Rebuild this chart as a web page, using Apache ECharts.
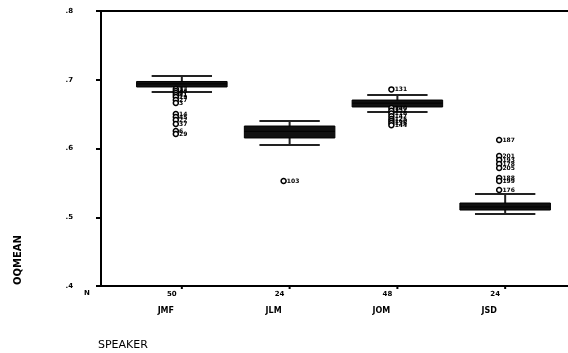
<!DOCTYPE html>
<html>
<head>
<meta charset="utf-8">
<script src="https://cdn.jsdelivr.net/npm/echarts@6/dist/echarts.min.js"></script>
<style>
  html, body { margin: 0; padding: 0; background: #fff; overflow: hidden; }
  #chart { width: 568px; height: 353px; }
</style>
</head>
<body>
<div id="chart"></div>
<script>
const speakers = ["JMF", "JLM", "JOM", "JSD"];
const counts = ["50", "24", "48", "24"];
const whiskerLow = [0.6822, 0.605, 0.6531, 0.5047];
const q1 = [0.6895, 0.6153, 0.6604, 0.5105];
const median = [0.694, 0.625, 0.666, 0.515];
const q3 = [0.6975, 0.6327, 0.6705, 0.5207];
const whiskerHigh = [0.7055, 0.640, 0.6778, 0.5338];

// outliers per speaker (value, case label)
const outJMF = [0.6865, 0.6836, 0.6807, 0.6778, 0.6749, 0.6705, 0.6662, 0.6502, 0.6458, 0.6415, 0.6356, 0.6255, 0.6211];
const outJMFLab = ["12", "33", "8", "41", "19", "27", "3", "14", "45", "22", "37", "6", "29"];
const outJLM = [0.5527];
const outJLMLab = ["103"];
const outJOM = [0.686, 0.659, 0.655, 0.651, 0.647, 0.643, 0.640, 0.637, 0.634];
const outJOMLab = ["131", "140", "152", "118", "147", "125", "160", "136", "144"];
const outJSD = [0.6124, 0.589, 0.5833, 0.5775, 0.5716, 0.557, 0.5527, 0.5396];
const outJSDLab = ["187", "201", "193", "178", "205", "188", "199", "176"];

const outliers = [
  [outJMF, outJMFLab],
  [outJLM, outJLMLab],
  [outJOM, outJOMLab],
  [outJSD, outJSDLab],
];

const boxData = speakers.map((s, i) => [i + 1, whiskerLow[i], q1[i], median[i], q3[i], whiskerHigh[i]]);
const outData = [];
outliers.forEach((o, i) => {
  o[0].forEach((v, k) => outData.push({ value: [i + 1, v], name: o[1][k] }));
});

const font = "DejaVu Sans";
const chart = echarts.init(document.getElementById("chart"), null, { renderer: "canvas" });

function renderBox(params, api) {
  const x = api.value(0);
  const lo = api.coord([x, api.value(1)]);
  const b1 = api.coord([x, api.value(2)]);
  const md = api.coord([x, api.value(3)]);
  const b3 = api.coord([x, api.value(4)]);
  const hi = api.coord([x, api.value(5)]);
  const half = api.size([0.42, 0])[0];
  const cap = api.size([0.28, 0])[0];
  const cx = lo[0];
  const line = { stroke: "#222", lineWidth: 2 };
  return {
    type: "group",
    children: [
      { type: "line", shape: { x1: cx, y1: hi[1], x2: cx, y2: b3[1] }, style: line },
      { type: "line", shape: { x1: cx, y1: b1[1], x2: cx, y2: lo[1] }, style: line },
      { type: "line", shape: { x1: cx - cap, y1: hi[1], x2: cx + cap, y2: hi[1] }, style: line },
      { type: "line", shape: { x1: cx - cap, y1: lo[1], x2: cx + cap, y2: lo[1] }, style: line },
      { type: "rect", shape: { x: cx - half, y: b3[1], width: half * 2, height: b1[1] - b3[1] },
        style: { fill: "#111", stroke: "#000", lineWidth: 1 } },
      { type: "line", shape: { x1: cx - half, y1: md[1], x2: cx + half, y2: md[1] },
        style: { stroke: "#000", lineWidth: 1 } },
    ],
  };
}

function renderCat(params, api) {
  const i = params.dataIndex;
  const p = api.coord([api.value(0), 0.4]);
  return {
    type: "group",
    children: [
      { type: "line", shape: { x1: p[0], y1: p[1], x2: p[0], y2: p[1] + 3 }, style: { stroke: "#000", lineWidth: 2 } },
      { type: "text", x: p[0] - 10, y: p[1] + 8,
        style: { text: counts[i], fill: "#000", font: "bold 7px " + font, align: "center", verticalAlign: "middle" } },
      { type: "text", x: p[0] - 16, y: p[1] + 25,
        style: { text: speakers[i], fill: "#000", font: "bold 8px " + font, align: "center", verticalAlign: "middle" } },
    ],
  };
}

// top frame line drawn through the scale
function renderTop(params, api) {
  const a = api.coord([0.25, 0.8]);
  return { type: "line", shape: { x1: a[0] - 5, y1: a[1], x2: a[0] + 600, y2: a[1] }, style: { stroke: "#000", lineWidth: 2 } };
}

chart.setOption({
  animation: false,
  grid: { left: 101, top: 11, width: 485, height: 275, outerBoundsMode: "none", containLabel: false, show: false },
  xAxis: {
    type: "value", min: 0.25, max: 4.75,
    axisLine: { show: true, lineStyle: { color: "#000", width: 2 } },
    axisTick: { show: false }, axisLabel: { show: false }, splitLine: { show: false },
  },
  yAxis: {
    type: "value", min: 0.4, max: 0.8, interval: 0.1, position: "left",
    axisLine: { show: true, onZero: false, lineStyle: { color: "#000", width: 2 } },
    axisTick: { show: true, length: 5, lineStyle: { color: "#000", width: 2 } },
    splitLine: { show: false },
    axisLabel: {
      margin: 28, color: "#000", fontFamily: font, fontWeight: "bold", fontSize: 7,
      formatter: (v) => v.toFixed(1).replace(/^0/, ""),
    },
  },
  graphic: [
    { type: "text", left: 84, top: 290, style: { text: "N", fill: "#000", font: "bold 7px " + font } },
    { type: "text", left: 98, top: 340, style: { text: "SPEAKER", fill: "#000", font: "11px " + font } },
    { type: "text", x: 18, y: 260, rotation: Math.PI / 2,
      style: { text: "OQMEAN", fill: "#000", font: "bold 10px " + font, align: "center", verticalAlign: "middle" } },
  ],
  series: [
    { type: "custom", renderItem: renderTop, data: [[0.25, 0.8]], clip: false, silent: true },
    { type: "custom", renderItem: renderBox, data: boxData, encode: { x: 0, y: [1, 2, 3, 4, 5] }, clip: false },
    {
      type: "scatter", data: outData, symbol: "circle", symbolSize: 5, symbolOffset: [-6, 0],
      itemStyle: { color: "#fff", borderColor: "#000", borderWidth: 1.5, opacity: 1 },
      label: { show: true, position: "right", distance: 0, formatter: (p) => p.name, fontSize: 6, fontWeight: "bold",
               color: "#000", fontFamily: font, offset: [-6, 0] },
      labelLayout: { hideOverlap: false },
    },
    { type: "custom", renderItem: renderCat, data: speakers.map((s, i) => [i + 1, 0.4]), clip: false, silent: true },
  ],
});
</script>
</body>
</html>
